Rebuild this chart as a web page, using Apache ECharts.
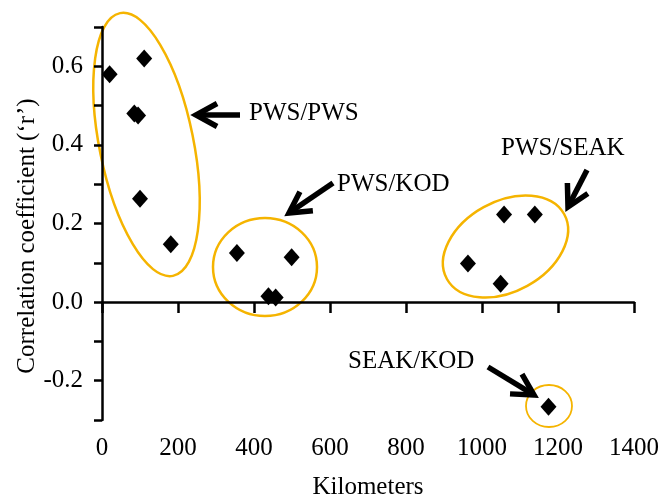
<!DOCTYPE html>
<html>
<head>
<meta charset="utf-8">
<script src="https://cdn.jsdelivr.net/npm/echarts@6/dist/echarts.min.js"></script>
<style>
  html, body { margin: 0; padding: 0; background: #fff; }
  #chart { width: 668px; height: 499px; }
</style>
</head>
<body>
<div id="chart"></div>
<script>
// distance (km) vs correlation coefficient r
var kilometers = [20, 111, 85, 95, 100, 181, 355, 499, 438, 457, 1058, 1139, 963, 1049, 1175];
var correlation = [0.58, 0.62, 0.48, 0.475, 0.263, 0.147, 0.125, 0.114, 0.015, 0.012, 0.223, 0.223, 0.098, 0.047, -0.266];
var xTicks = [0, 200, 400, 600, 800, 1000, 1200, 1400];
var groupLabels = ["PWS/PWS", "PWS/KOD", "PWS/SEAK", "SEAK/KOD"];

var FONT = "Liberation Serif";
var FS = 25;
var ORANGE = "#F5B400";

var points = kilometers.map(function (k, i) { return [k, correlation[i]]; });

function arrow(tail, tip) {
  var dx = tail[0] - tip[0], dy = tail[1] - tip[1];
  var len = Math.sqrt(dx * dx + dy * dy);
  var ux = dx / len, uy = dy / len;
  var hl = 24, ang = 0.5;
  var c = Math.cos(ang), s = Math.sin(ang);
  var w1 = [tip[0] + hl * (ux * c - uy * s), tip[1] + hl * (ux * s + uy * c)];
  var w2 = [tip[0] + hl * (ux * c + uy * s), tip[1] + hl * (-ux * s + uy * c)];
  var st = { stroke: "#000", lineWidth: 5.5, fill: null, lineCap: "butt", lineJoin: "miter" };
  return [
    { type: "polyline", shape: { points: [tail, [tip[0] + ux * 3, tip[1] + uy * 3]] }, style: st },
    { type: "polyline", shape: { points: [w1, tip, w2] }, style: st }
  ];
}

function ellipse(cx, cy, rx, ry, rotDeg, lw) {
  return {
    type: "ellipse",
    shape: { cx: cx, cy: cy, rx: rx, ry: ry },
    originX: cx, originY: cy,
    rotation: rotDeg * Math.PI / 180,
    style: { stroke: ORANGE, lineWidth: lw, fill: null }
  };
}

function label(text, x, y) {
  return {
    type: "text",
    style: { text: text, x: x, y: y, font: FS + "px '" + FONT + "'", fill: "#000",
      textAlign: "left", textVerticalAlign: "middle" }
  };
}

var graphics = [
  ellipse(146.5, 144.5, 47, 134, 11.4, 2.5),
  ellipse(265, 267, 52, 49, 0, 2.5),
  ellipse(505.5, 246.5, 67, 45, 29, 2.5),
  ellipse(549, 406, 23, 21, 0, 1.8),
  label(groupLabels[0], 249, 113),
  label(groupLabels[1], 337, 184),
  label(groupLabels[2], 501, 148),
  label(groupLabels[3], 348, 361),
  {
    type: "text",
    x: 27, y: 236, rotation: Math.PI / 2,
    style: { text: "Correlation coefficient (\u2018r\u2019)", x: 0, y: 0,
      font: FS + "px '" + FONT + "'", fill: "#000", textAlign: "center", textVerticalAlign: "middle" }
  }
]
  .concat(arrow([240, 115], [196, 115]))
  .concat(arrow([333, 183], [289, 213]))
  .concat(arrow([587, 170], [568, 207]))
  .concat(arrow([488, 367], [534, 395]));

var chart = echarts.init(document.getElementById("chart"));
chart.setOption({
  animation: false,
  grid: { left: 102, right: 34, top: 27, bottom: 79, containLabel: false, outerBoundsMode: "none" },
  xAxis: [
    {
      type: "value", min: 0, max: 1400, interval: 200,
      axisLine: { onZero: true, lineStyle: { color: "#000", width: 2.5 } },
      axisTick: { show: true, length: 11, lineStyle: { color: "#000", width: 2.5 } },
      axisLabel: { show: false },
      splitLine: { show: false }
    },
    {
      type: "value", min: 0, max: 1400, interval: 200, position: "bottom",
      axisLine: { show: false, onZero: false },
      axisTick: { show: false },
      splitLine: { show: false },
      axisLabel: {
        margin: 16, color: "#000", fontFamily: FONT, fontSize: FS,
        formatter: function (v) { return xTicks.indexOf(v) >= 0 ? String(v) : ""; }
      },
      name: "Kilometers", nameLocation: "middle", nameGap: 55,
      nameTextStyle: { color: "#000", fontFamily: FONT, fontSize: FS }
    }
  ],
  yAxis: {
    type: "value", min: -0.3, max: 0.7, interval: 0.1,
    axisLine: { show: true, lineStyle: { color: "#000", width: 2.5 } },
    axisTick: { show: true, length: 8, lineStyle: { color: "#000", width: 2.5 } },
    splitLine: { show: false },
    axisLabel: {
      margin: 19, color: "#000", fontFamily: FONT, fontSize: FS,
      formatter: function (v) {
        var t = Math.round(v * 10);
        return t % 2 === 0 ? (t / 10).toFixed(1) : "";
      }
    }
  },
  series: [{
    type: "scatter",
    data: points,
    symbol: "diamond",
    symbolSize: [16, 18],
    itemStyle: { color: "#000", opacity: 1 },
    z: 5
  }],
  graphic: graphics
});
</script>
</body>
</html>
